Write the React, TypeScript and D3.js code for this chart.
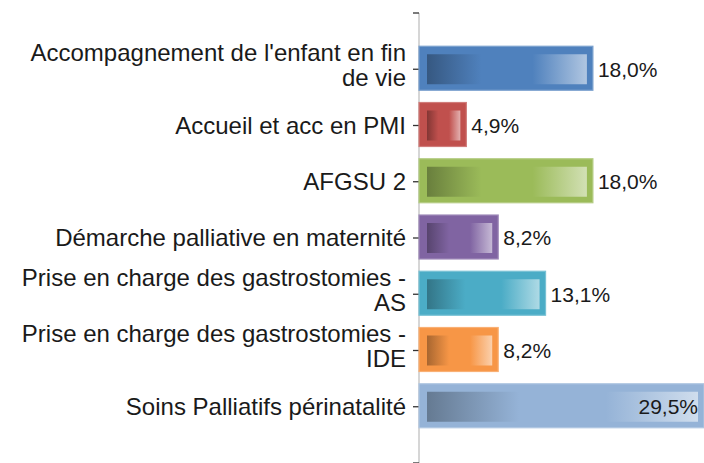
import React from "react";
import * as d3 from "d3";

const categories: string[][] = [
  ["Accompagnement de l'enfant en fin", "de vie"],
  ["Accueil et acc en PMI"],
  ["AFGSU 2"],
  ["Démarche palliative en maternité"],
  ["Prise en charge des gastrostomies -", "AS"],
  ["Prise en charge des gastrostomies -", "IDE"],
  ["Soins Palliatifs périnatalité"],
];
const values: number[] = [18.0, 4.9, 18.0, 8.2, 13.1, 8.2, 29.5];
const labels: string[] = ["18,0%", "4,9%", "18,0%", "8,2%", "13,1%", "8,2%", "29,5%"];
const colors: string[] = ["#4F81BD", "#C0504D", "#9BBB59", "#8064A2", "#4BACC6", "#F79646", "#95B3D7"];

const W = 704;
const H = 463;
const axisX = 419;
const axisTop = 13;
const axisBottom = 463;

export default function App() {
  const x = d3.scaleLinear().domain([0, 29.5]).range([axisX, 704]);
  const y = d3
    .scaleLinear()
    .domain([-1, categories.length])
    .range([axisTop, axisBottom]);
  const barH = 44;
  const font = "'Liberation Sans', Arial, sans-serif";

  return (
    <svg
      width={W}
      height={H}
      style={{ position: "absolute", left: 0, top: 0, background: "#fff" }}
    >
      <defs>
        {colors.map((c, i) => {
          const base = d3.color(c)!;
          const dark = d3.interpolateRgb(c, "#000")(0.32);
          const light = d3.interpolateRgb(c, "#fff")(0.55);
          return (
            <linearGradient key={i} id={`g${i}`} x1="0" x2="1" y1="0" y2="0">
              <stop offset="0" stopColor={dark} />
              <stop offset="0.34" stopColor={base.formatHex()} />
              <stop offset="0.66" stopColor={base.formatHex()} />
              <stop offset="1" stopColor={light} />
            </linearGradient>
          );
        })}
      </defs>

      {/* axis */}
      <line x1={axisX} x2={axisX} y1={axisTop} y2={axisBottom} stroke="#c8c8c8" strokeWidth={1.5} />
      {d3.range(-1, categories.length + 1).map((k) => (
        <line
          key={k}
          x1={axisX - 6}
          x2={axisX}
          y1={y(k)}
          y2={y(k)}
          stroke="#333"
          strokeWidth={1.3}
        />
      ))}

      {/* bars */}
      {values.map((v, i) => {
        const cy = y(i) - 1;
        const x0 = x(0);
        const x1 = x(v);
        const c = colors[i];
        const stroke = d3.interpolateRgb(c, "#fff")(0.25);
        return (
          <g key={i}>
            <rect
              x={x0}
              y={cy - barH / 2}
              width={x1 - x0}
              height={barH}
              fill={c}
              stroke={stroke}
              strokeWidth={1.2}
            />
            <rect
              x={x0 + 8}
              y={cy - barH / 2 + 8}
              width={Math.max(0, x1 - x0 - 14)}
              height={barH - 14}
              fill={`url(#g${i})`}
            />
          </g>
        );
      })}

      {/* value labels */}
      {values.map((v, i) => {
        const inside = x(v) + 60 > W;
        return (
          <text
            key={i}
            x={inside ? x(v) - 6 : x(v) + 5}
            y={y(i)}
            dy="0.35em"
            textAnchor={inside ? "end" : "start"}
            fontFamily={font}
            fontSize={21}
            fill="#1a1a1a"
          >
            {labels[i]}
          </text>
        );
      })}

      {/* category labels */}
      {categories.map((lines, i) => (
        <text
          key={i}
          x={axisX - 13}
          y={y(i)}
          textAnchor="end"
          fontFamily={font}
          fontSize={24}
          fill="#1a1a1a"
        >
          {lines.map((l, j) => (
            <tspan
              key={j}
              x={axisX - 13}
              y={y(i) + (lines.length === 1 ? 0 : j === 0 ? -17 : 8)}
              dy="0.35em"
            >
              {l}
            </tspan>
          ))}
        </text>
      ))}
    </svg>
  );
}
